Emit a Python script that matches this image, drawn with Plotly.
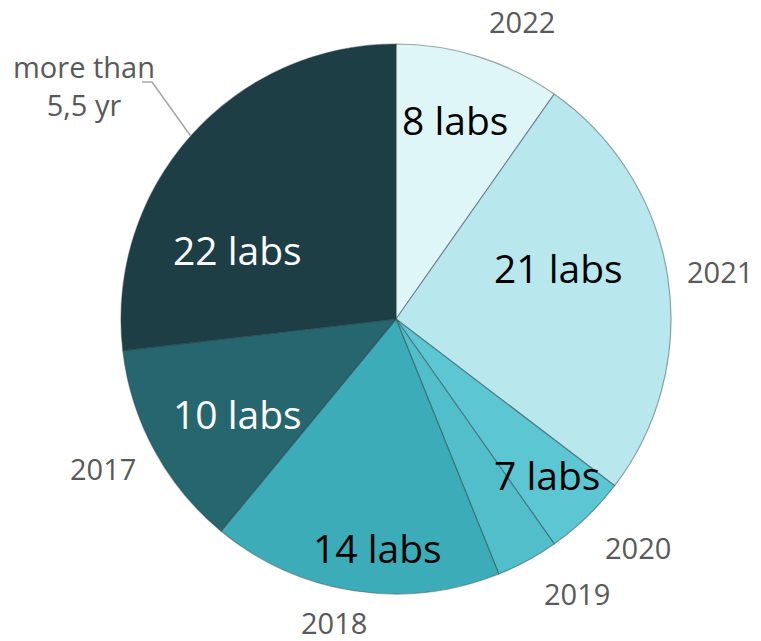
import math
import plotly.graph_objects as go

# Lab counts by year of first accreditation
years = ["2022", "2021", "2020", "2019", "2018", "2017", "more than<br>5,5 yr"]
labs = [8, 21, 4, 3, 14, 10, 22]
colors = ["#DFF6F9", "#B8E8EE", "#5CC6D2", "#52BECA", "#3DACB9", "#26666E", "#1C3E44"]

# In-slice count labels: slices that share one label are grouped together
label_groups = [[0], [1], [2, 3], [4], [5], [6]]
label_colors = ["black", "black", "black", "black", "white", "white"]

W, H = 761, 641
CX, CY, R = 396, 319, 275

fig = go.Figure(go.Pie(
    labels=years,
    values=labs,
    sort=False,
    direction="clockwise",
    rotation=0,
    textinfo="none",
    hoverinfo="label+value",
    marker=dict(colors=colors, line=dict(color="rgba(40,60,65,0.45)", width=1.2)),
    showlegend=False,
))

total = sum(labs)
bounds = [0.0]
for v in labs:
    bounds.append(bounds[-1] + v / total * 360.0)
mids = [(bounds[i] + bounds[i + 1]) / 2 for i in range(len(labs))]


def to_paper(angle_deg, rfrac):
    a = math.radians(angle_deg)
    px = CX + rfrac * R * math.sin(a)
    py = CY - rfrac * R * math.cos(a)
    return (px - 121) / 550, 1 - (py - 44) / 550


# angle nudge (deg) from the group's mid-angle and radial position, per count label
inner_place = [(-1.0, 0.755), (-8.7, 0.62), (-6.8, 0.79), (-4.1, 0.835), (-2.3, 0.67), (-17.9, 0.63)]
annotations = []
for grp, col, (dang, rf) in zip(label_groups, label_colors, inner_place):
    n = sum(labs[i] for i in grp)
    mid = (bounds[grp[0]] + bounds[grp[-1] + 1]) / 2
    x, y = to_paper(mid + dang, rf)
    annotations.append(dict(
        x=x, y=y, xref="paper", yref="paper", text=f"{n} labs", showarrow=False,
        font=dict(family="Open Sans", size=39, color=col), xanchor="center", yanchor="middle",
    ))

# category labels around the pie (angle, radius fraction)
outer_place = [(23.0, 1.175), (81.7, 1.19), (133.4, 1.21), (146.6, 1.196),
               (191.5, 1.125), (243.0, 1.196), (306.8, 1.415)]
for name, (ang, rf) in zip(years, outer_place):
    x, y = to_paper(ang, rf)
    annotations.append(dict(
        x=x, y=y, xref="paper", yref="paper", text=name, showarrow=False,
        font=dict(family="Open Sans", size=29, color="#595959"), xanchor="center", yanchor="middle",
    ))

# leader line for the oldest group
ex, ey = to_paper(mids[6], 1.0)
kx, ky = (152 - 121) / 550, 1 - (82 - 44) / 550
tx = (142 - 121) / 550
fig.add_shape(type="path", xref="paper", yref="paper",
              path=f"M {ex} {ey} L {kx} {ky} L {tx} {ky}",
              line=dict(color="#A6A6A6", width=1.5))

fig.update_layout(
    width=W, height=H,
    margin=dict(l=121, r=90, t=44, b=47),
    paper_bgcolor="white",
    plot_bgcolor="white",
    annotations=annotations,
)

fig.write_html("out.html")
